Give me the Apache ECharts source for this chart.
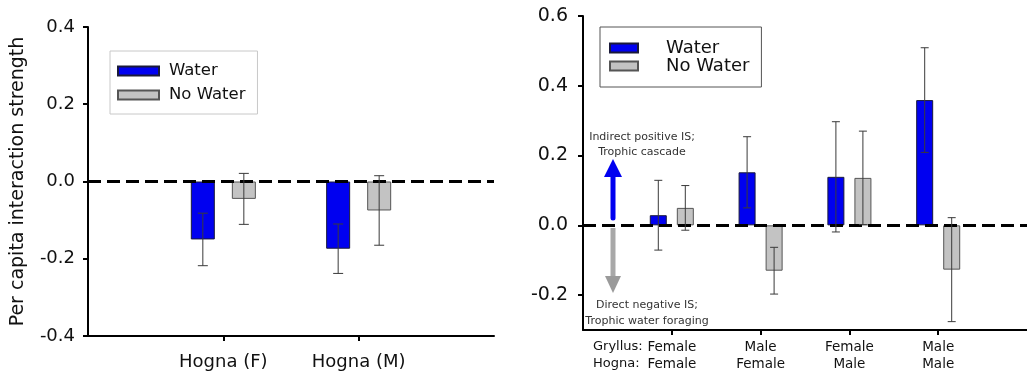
<!DOCTYPE html>
<html lang="en">
  <head>
    <meta charset="UTF-8" />
    <title>Per capita interaction strength</title>
    <script src="https://cdn.jsdelivr.net/npm/echarts@6.0.0/dist/echarts.min.js"></script>
    <style>
      body {
        margin: 0;
        padding: 0;
        background: #fff;
      }
      #chart {
        width: 1027px;
        height: 377px;
      }
    </style>
  </head>
  <body>
    <div id="chart"></div>

    <script>
      // left panel: Hogna sex only
      var leftCats = ['Hogna (F)', 'Hogna (M)'];
      var leftWater = [-0.150, -0.174];
      var leftWaterErr = [0.068, 0.064];
      var leftNoWater = [-0.045, -0.075];
      var leftNoWaterErr = [0.066, 0.090];

      // right panel: Gryllus x Hogna sex
      var rightCats = ['Female\nFemale', 'Male\nFemale', 'Female\nMale', 'Male\nMale'];
      var rightWater = [0.029, 0.152, 0.139, 0.359];
      var rightWaterErr = [0.100, 0.102, 0.158, 0.150];
      var rightNoWater = [0.050, -0.130, 0.136, -0.127];
      var rightNoWaterErr = [0.064, 0.067, 0.134, 0.149];

      var rightTicks = [-0.2, 0, 0.2, 0.4, 0.6];

      var FONT = 'DejaVu Sans, Verdana, sans-serif';
      var BLUE = '#0000f0';
      var GRAY = '#c3c3c3';

      // pad categories with an empty slot at each end (axis runs from slot 0 to the last slot)
      function pad(arr, fill) {
        return [fill].concat(arr, [fill]);
      }
      function errData(vals, errs) {
        return vals.map(function (v, i) {
          return [i + 1, v, errs[i]];
        });
      }
      function errRender(offset, cap) {
        return function (params, api) {
          var x = api.value(0), m = api.value(1), e = api.value(2);
          var hi = api.coord([x, m + e]);
          var lo = api.coord([x, m - e]);
          var cx = hi[0] + offset;
          var st = { stroke: '#3a3a3a', lineWidth: 1 };
          return {
            type: 'group',
            children: [
              { type: 'line', shape: { x1: cx, y1: hi[1], x2: cx, y2: lo[1] }, style: st },
              { type: 'line', shape: { x1: cx - cap, y1: hi[1], x2: cx + cap, y2: hi[1] }, style: st },
              { type: 'line', shape: { x1: cx - cap, y1: lo[1], x2: cx + cap, y2: lo[1] }, style: st }
            ]
          };
        };
      }
      function notEmpty(i, v) {
        return v !== '';
      }

      var zeroLine = {
        silent: true,
        symbol: ['none', 'none'],
        label: { show: false },
        lineStyle: { color: '#000', type: [13, 6], width: 3 },
        data: [{ yAxis: 0 }]
      };

      var chart = echarts.init(document.getElementById('chart'));
      var option = {
        animation: false,
        textStyle: { fontFamily: FONT },
        legend: [
          {
            left: 110,
            top: 51,
            orient: 'vertical',
            data: ['Water', 'No Water'],
            itemWidth: 41,
            itemHeight: 9,
            itemGap: 4,
            icon: 'rect',
            borderColor: '#c8c8c8',
            borderWidth: 1,
            padding: [10, 12, 9, 7],
            selectedMode: false,
            textStyle: { fontSize: 16.5, lineHeight: 20, color: '#111', fontFamily: FONT, padding: [0, 0, 0, 5] }
          },
          {
            left: 600,
            top: 27,
            orient: 'vertical',
            data: ['Water', 'No Water'],
            itemWidth: 28,
            itemHeight: 9,
            itemGap: 0,
            icon: 'rect',
            borderColor: '#555',
            borderWidth: 1,
            padding: [12, 12, 12, 9],
            selectedMode: false,
            textStyle: { fontSize: 18, lineHeight: 16, color: '#111', fontFamily: FONT, padding: [0, 0, 0, 23] }
          }
        ],
        grid: [
          { left: 88, right: 533, top: 27, bottom: 41 },
          { left: 583, right: -5, top: 16, bottom: 47 }
        ],
        xAxis: [
          {
            type: 'category',
            gridIndex: 0,
            data: pad(leftCats, ''),
            boundaryGap: false,
            axisLine: { onZero: false, lineStyle: { color: '#000', width: 2 } },
            axisTick: { interval: notEmpty, length: 5, lineStyle: { color: '#000', width: 2 } },
            axisLabel: { interval: notEmpty, margin: 17, fontSize: 18, color: '#111', fontFamily: FONT }
          },
          {
            type: 'category',
            gridIndex: 1,
            data: pad(rightCats, ''),
            boundaryGap: false,
            axisLine: { onZero: false, lineStyle: { color: '#000', width: 2 } },
            axisTick: { interval: notEmpty, length: 5, lineStyle: { color: '#000', width: 2 } },
            axisLabel: { interval: notEmpty, margin: 9, fontSize: 13.5, lineHeight: 17, color: '#111', fontFamily: FONT }
          }
        ],
        yAxis: [
          {
            type: 'value',
            gridIndex: 0,
            min: -0.4,
            max: 0.4,
            interval: 0.2,
            name: 'Per capita interaction strength',
            nameLocation: 'middle',
            nameRotate: 90,
            nameGap: 60,
            nameTextStyle: { fontSize: 19, color: '#111', fontFamily: FONT },
            splitLine: { show: false },
            axisLine: { show: true, lineStyle: { color: '#000', width: 2 } },
            axisTick: { show: true, length: 5, lineStyle: { color: '#000', width: 2 } },
            axisLabel: {
              margin: 13,
              fontSize: 18,
              color: '#111',
              fontFamily: FONT,
              formatter: function (v) { return v.toFixed(1); }
            }
          },
          {
            type: 'value',
            gridIndex: 1,
            min: -0.3,
            max: 0.6,
            splitLine: { show: false },
            axisLine: { show: true, lineStyle: { color: '#000', width: 2 } },
            axisTick: { show: true, length: 5, customValues: rightTicks, lineStyle: { color: '#000', width: 2 } },
            axisLabel: {
              margin: 15,
              fontSize: 19,
              color: '#111',
              fontFamily: FONT,
              customValues: rightTicks,
              formatter: function (v) { return (+v).toFixed(1); }
            }
          }
        ],
        series: [
          {
            name: 'Water',
            type: 'bar',
            xAxisIndex: 0,
            yAxisIndex: 0,
            data: pad(leftWater, null),
            barWidth: 24,
            itemStyle: { color: BLUE, borderColor: '#1a1a3a', borderWidth: 1 }
          },
          {
            name: 'No Water',
            type: 'bar',
            xAxisIndex: 0,
            yAxisIndex: 0,
            data: pad(leftNoWater, null),
            barWidth: 24,
            barGap: '71%',
            itemStyle: { color: GRAY, borderColor: '#555', borderWidth: 1 },
            markLine: zeroLine
          },
          {
            name: 'Water',
            type: 'bar',
            xAxisIndex: 1,
            yAxisIndex: 1,
            data: pad(rightWater, null),
            barWidth: 17,
            itemStyle: { color: BLUE, borderColor: '#1a1a3a', borderWidth: 1 }
          },
          {
            name: 'No Water',
            type: 'bar',
            xAxisIndex: 1,
            yAxisIndex: 1,
            data: pad(rightNoWater, null),
            barWidth: 17,
            barGap: '59%',
            itemStyle: { color: GRAY, borderColor: '#555', borderWidth: 1 },
            markLine: zeroLine
          },
          {
            type: 'custom',
            xAxisIndex: 0,
            yAxisIndex: 0,
            silent: true,
            z: 5,
            renderItem: errRender(-20.5, 5),
            data: errData(leftWater, leftWaterErr)
          },
          {
            type: 'custom',
            xAxisIndex: 0,
            yAxisIndex: 0,
            silent: true,
            z: 5,
            renderItem: errRender(20.5, 5),
            data: errData(leftNoWater, leftNoWaterErr)
          },
          {
            type: 'custom',
            xAxisIndex: 1,
            yAxisIndex: 1,
            silent: true,
            z: 5,
            renderItem: errRender(-13.5, 4),
            data: errData(rightWater, rightWaterErr)
          },
          {
            type: 'custom',
            xAxisIndex: 1,
            yAxisIndex: 1,
            silent: true,
            z: 5,
            renderItem: errRender(13.5, 4),
            data: errData(rightNoWater, rightNoWaterErr)
          }
        ],
        graphic: [
          {
            type: 'text',
            left: 593,
            top: 338,
            style: { text: 'Gryllus:\nHogna:', font: '13px ' + FONT, lineHeight: 17, fill: '#111' }
          },
          {
            type: 'text',
            x: 642,
            y: 130,
            style: { text: 'Indirect positive IS;\nTrophic cascade', font: '11px ' + FONT, lineHeight: 15, fill: '#333', align: 'center' }
          },
          {
            type: 'text',
            x: 647,
            y: 297,
            style: { text: 'Direct negative IS;\nTrophic water foraging', font: '11px ' + FONT, lineHeight: 16, fill: '#333', align: 'center' }
          },
          // blue arrow up
          {
            type: 'line',
            shape: { x1: 613, y1: 218, x2: 613, y2: 174 },
            style: { stroke: BLUE, lineWidth: 5, lineCap: 'round' }
          },
          {
            type: 'polygon',
            shape: { points: [[604, 177], [622, 177], [613, 159]] },
            style: { fill: BLUE }
          },
          // gray arrow down
          {
            type: 'line',
            shape: { x1: 613, y1: 228, x2: 613, y2: 278 },
            style: { stroke: '#a8a8a8', lineWidth: 5 }
          },
          {
            type: 'polygon',
            shape: { points: [[605, 276], [621, 276], [613, 293]] },
            style: { fill: '#9a9a9a' }
          }
        ]
      };
      chart.setOption(option);
    </script>
  </body>
</html>
